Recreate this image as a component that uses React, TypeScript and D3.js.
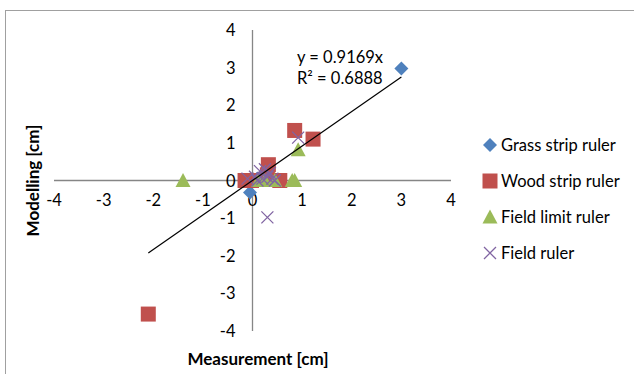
import React from 'react';
import * as d3 from 'd3';

type Pt = [number, number];

const grassStrip: Pt[] = [[3.0, 2.98], [-0.05, -0.32], [0.1, 0.05], [0.2, 0.1]];
const woodStrip: Pt[] = [
  [-2.1, -3.55], [0.85, 1.33], [1.22, 1.1], [0.32, 0.42], [-0.15, 0], [-0.02, 0], [0.55, 0], [0.3, 0.15],
];
const fieldLimit: Pt[] = [
  [-1.4, 0], [0.92, 0.82], [0.85, 0], [0.8, 0], [0.25, 0], [0.12, 0], [0.45, 0],
];
const fieldRuler: Pt[] = [
  [0.3, -0.98], [0.92, 1.14], [0.05, 0.1], [0.15, 0.25], [0.2, 0.05], [0.3, 0.1],
  [0.4, 0.05], [0.45, 0], [0.1, 0], [0.25, 0.3], [0.35, 0.2], [-0.1, 0.05],
];
const seriesNames = ['Grass strip ruler', 'Wood strip ruler', 'Field limit ruler', 'Field ruler'];
const seriesColors = ['#4F81BD', '#C0504D', '#9BBB59', '#8064A2'];
const ticks = [-4, -3, -2, -1, 0, 1, 2, 3, 4];
const slope = 0.9169;
const rSquared = 0.6888;

const font = 'Lato, "Liberation Sans", sans-serif';

const Marker = ({ kind, x, y, color }: { kind: number; x: number; y: number; color: string }) => {
  if (kind === 0) {
    return <path d={`M${x},${y - 7}L${x + 7},${y}L${x},${y + 7}L${x - 7},${y}Z`} fill={color} />;
  }
  if (kind === 1) {
    return <rect x={x - 7.5} y={y - 7.5} width={15} height={15} fill={color} />;
  }
  if (kind === 2) {
    return <path d={`M${x},${y - 7.5}L${x + 7.5},${y + 6.5}L${x - 7.5},${y + 6.5}Z`} fill={color} />;
  }
  return (
    <path
      d={`M${x - 6},${y - 6}L${x + 6},${y + 6}M${x - 6},${y + 6}L${x + 6},${y - 6}`}
      stroke={color}
      strokeWidth={1.3}
      fill="none"
    />
  );
};

export default function App() {
  const x = d3.scaleLinear().domain([-4, 4]).range([54, 451]);
  const y = d3.scaleLinear().domain([-4, 4]).range([331, 30]);
  const all = [grassStrip, woodStrip, fieldLimit, fieldRuler];
  const xs = all.flat().map((d) => d[0]);
  const [xMin, xMax] = d3.extent(xs) as [number, number];
  const trend = d3
    .line<number>()
    .x((v) => x(v))
    .y((v) => y(slope * v));

  return (
    <svg width={634} height={374} style={{ position: 'absolute', left: 0, top: 0 }}>
      <rect x={5.5} y={10.5} width={700} height={400} fill="white" stroke="#a0a0a0" strokeWidth={1} />
      <line x1={x(-4)} x2={x(4)} y1={y(0)} y2={y(0)} stroke="#868686" strokeWidth={1.3} />
      <line x1={x(0)} x2={x(0)} y1={y(4)} y2={y(-4)} stroke="#868686" strokeWidth={1.3} />
      {ticks.map((t) => (
        <text key={'x' + t} x={x(t)} y={y(0) + 25} textAnchor="middle" fontFamily={font} fontSize={16.5} fill="#000">
          {t}
        </text>
      ))}
      {ticks.map((t) => (
        <text key={'y' + t} x={x(0) - 17} y={y(t) + 6} textAnchor="end" fontFamily={font} fontSize={16.5} fill="#000">
          {t}
        </text>
      ))}
      {all.map((s, i) =>
        s.map((d, j) => <Marker key={i + '-' + j} kind={i} x={x(d[0])} y={y(d[1])} color={seriesColors[i]} />)
      )}
      <path d={trend([xMin, xMax]) || ''} stroke="#000" strokeWidth={1.2} fill="none" />
      <text x={297} y={63} fontFamily={font} fontSize={16.5} fill="#000">
        {`y = ${slope}x`}
      </text>
      <text x={297} y={84} fontFamily={font} fontSize={16.5} fill="#000">
        {`R² = ${rSquared}`}
      </text>
      <text x={258} y={365} textAnchor="middle" fontFamily={font} fontSize={17} fontWeight="bold" fill="#000">
        Measurement [cm]
      </text>
      <text
        transform={`translate(39,${y(0)}) rotate(-90)`}
        textAnchor="middle"
        fontFamily={font}
        fontSize={17}
        fontWeight="bold"
        fill="#000"
      >
        Modelling [cm]
      </text>
      {seriesNames.map((n, i) => (
        <g key={n}>
          <Marker kind={i} x={490} y={145 + i * 36} color={seriesColors[i]} />
          <text x={501} y={145 + i * 36 + 6} fontFamily={font} fontSize={16.5} fill="#000">
            {n}
          </text>
        </g>
      ))}
    </svg>
  );
}
